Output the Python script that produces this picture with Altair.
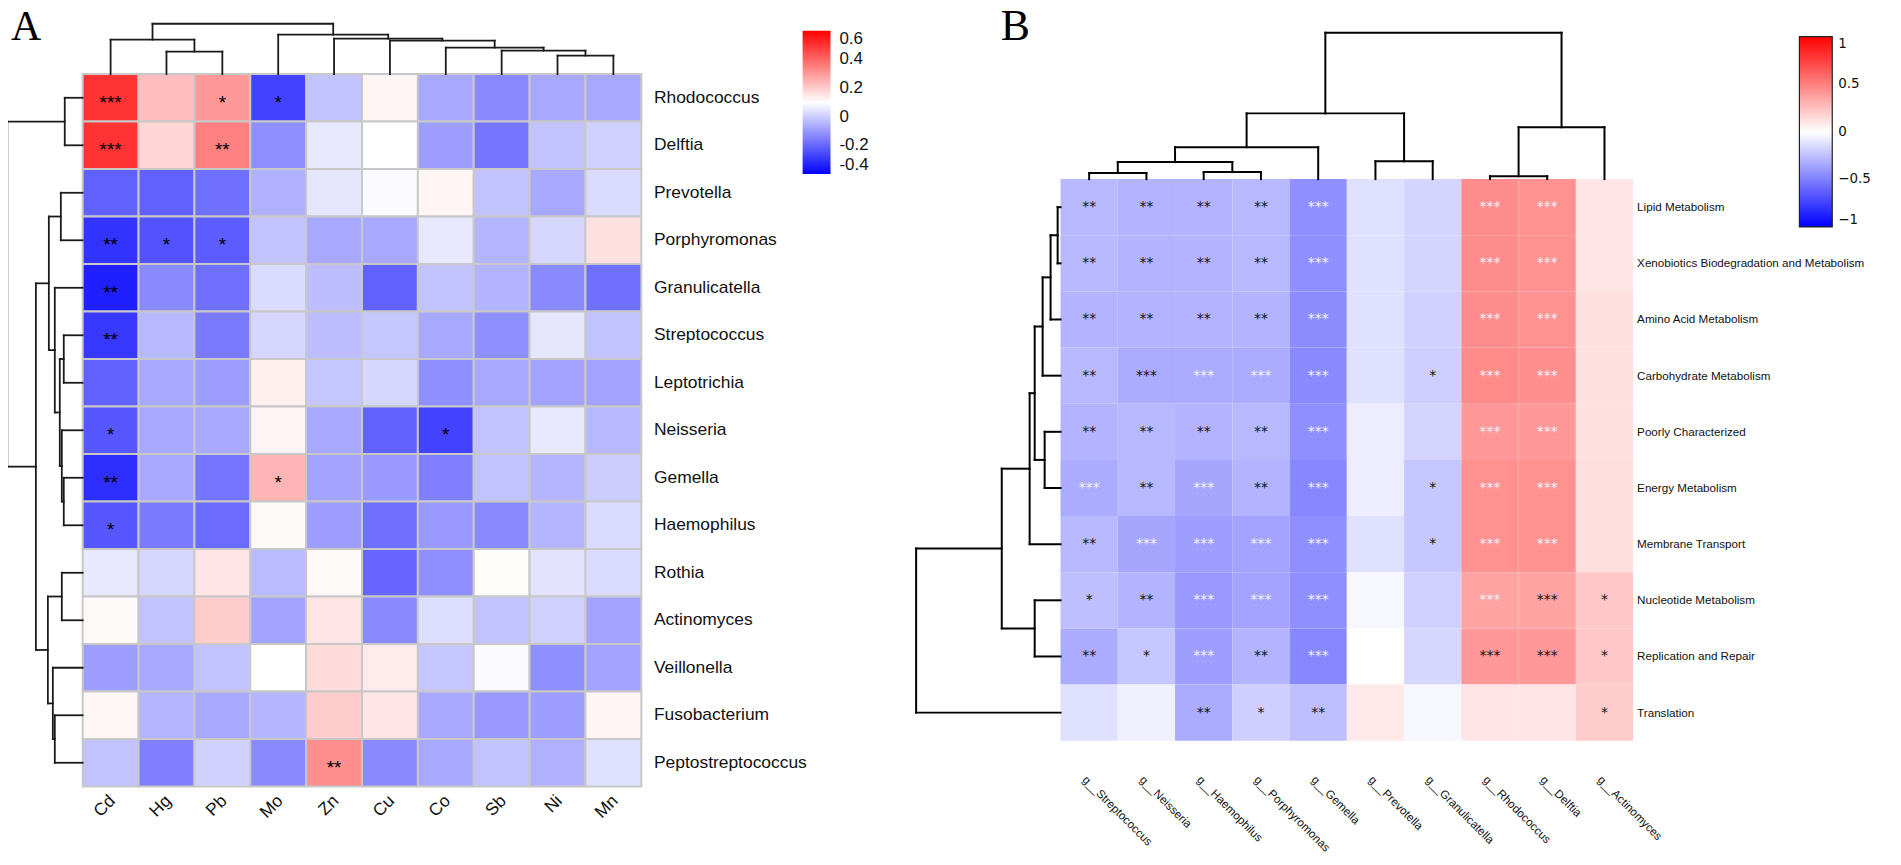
import altair as alt
import pandas as pd

# ---------------- Panel A data ----------------
A_cols = ["Cd", "Hg", "Pb", "Mo", "Zn", "Cu", "Co", "Sb", "Ni", "Mn"]
A_rows = ["Rhodococcus", "Delftia", "Prevotella", "Porphyromonas", "Granulicatella",
          "Streptococcus", "Leptotrichia", "Neisseria", "Gemella", "Haemophilus",
          "Rothia", "Actinomyces", "Veillonella", "Fusobacterium", "Peptostreptococcus"]
A_vals = [
    [0.50, 0.23, 0.30, -0.27, -0.02, 0.12, -0.07, -0.13, -0.07, -0.07],
    [0.50, 0.18, 0.35, -0.12, 0.055, 0.10, -0.09, -0.17, -0.02, 0.01],
    [-0.21, -0.21, -0.18, -0.055, 0.05, 0.09, 0.12, -0.02, -0.07, 0.03],
    [-0.30, -0.24, -0.22, -0.02, -0.07, -0.07, 0.055, -0.045, 0.02, 0.16],
    [-0.34, -0.13, -0.18, 0.03, -0.03, -0.21, -0.02, -0.05, -0.13, -0.18],
    [-0.29, -0.04, -0.16, 0.02, -0.03, -0.01, -0.07, -0.12, 0.05, -0.02],
    [-0.21, -0.07, -0.09, 0.13, -0.01, 0.02, -0.12, -0.07, -0.08, -0.08],
    [-0.23, -0.07, -0.07, 0.12, -0.07, -0.21, -0.27, -0.02, 0.055, -0.04],
    [-0.31, -0.07, -0.17, 0.245, -0.08, -0.10, -0.15, -0.02, -0.045, 0.0],
    [-0.23, -0.16, -0.19, 0.11, -0.09, -0.18, -0.10, -0.13, -0.045, 0.03],
    [0.055, 0.02, 0.15, -0.035, 0.11, -0.20, -0.12, 0.105, 0.045, 0.03],
    [0.11, -0.02, 0.20, -0.08, 0.15, -0.13, 0.035, -0.02, 0.01, -0.08],
    [-0.09, -0.07, -0.02, 0.10, 0.17, 0.14, -0.01, 0.09, -0.12, -0.08],
    [0.115, -0.045, -0.07, -0.045, 0.20, 0.15, -0.07, -0.10, -0.09, 0.12],
    [-0.02, -0.15, 0.01, -0.13, 0.32, -0.13, -0.07, -0.02, -0.055, 0.04],
]
A_sig = [("Rhodococcus", "Cd", "***"), ("Rhodococcus", "Pb", "*"), ("Rhodococcus", "Mo", "*"),
         ("Delftia", "Cd", "***"), ("Delftia", "Pb", "**"),
         ("Porphyromonas", "Cd", "**"), ("Porphyromonas", "Hg", "*"), ("Porphyromonas", "Pb", "*"),
         ("Granulicatella", "Cd", "**"), ("Streptococcus", "Cd", "**"),
         ("Neisseria", "Cd", "*"), ("Neisseria", "Co", "*"),
         ("Gemella", "Cd", "**"), ("Gemella", "Mo", "*"),
         ("Haemophilus", "Cd", "*"), ("Peptostreptococcus", "Zn", "**")]
# linkage (left, right, height) ; ids >= n are earlier merges
A_col_link = [(1, 2, 0.446), (0, 10, 0.683), (8, 9, 0.366), (7, 12, 0.465), (6, 13, 0.525),
              (5, 14, 0.663), (4, 15, 0.703), (3, 16, 0.782), (11, 17, 1.0)]
A_row_link = [(0, 1, 0.238), (2, 3, 0.29), (5, 6, 0.251), (8, 9, 0.251), (7, 18, 0.277),
              (17, 19, 0.304), (4, 20, 0.37), (16, 21, 0.449), (10, 11, 0.277), (13, 14, 0.37),
              (12, 24, 0.396), (23, 25, 0.462), (22, 26, 0.621), (15, 27, 1.0)]
A_ticks = [-0.4, -0.2, 0, 0.2, 0.4, 0.6]

# ---------------- Panel B data ----------------
B_cols = ["g__Streptococcus", "g__Neisseria", "g__Haemophilus", "g__Porphyromonas", "g__Gemella",
          "g__Prevotella", "g__Granulicatella", "g__Rhodococcus", "g__Delftia", "g__Actinomyces"]
B_rows = ["Lipid Metabolism", "Xenobiotics Biodegradation and Metabolism", "Amino Acid Metabolism",
          "Carbohydrate Metabolism", "Poorly Characterized", "Energy Metabolism",
          "Membrane Transport", "Nucleotide Metabolism", "Replication and Repair", "Translation"]
B_vals = [
    [-0.28, -0.30, -0.30, -0.28, -0.44, -0.12, -0.17, 0.45, 0.43, 0.10],
    [-0.28, -0.30, -0.30, -0.28, -0.44, -0.12, -0.17, 0.45, 0.43, 0.10],
    [-0.30, -0.30, -0.30, -0.30, -0.45, -0.12, -0.18, 0.45, 0.43, 0.12],
    [-0.28, -0.33, -0.33, -0.33, -0.46, -0.12, -0.19, 0.46, 0.44, 0.12],
    [-0.30, -0.28, -0.30, -0.28, -0.44, -0.07, -0.17, 0.40, 0.40, 0.12],
    [-0.33, -0.28, -0.35, -0.30, -0.47, -0.07, -0.22, 0.43, 0.43, 0.13],
    [-0.28, -0.35, -0.38, -0.36, -0.44, -0.12, -0.22, 0.43, 0.43, 0.13],
    [-0.25, -0.30, -0.40, -0.36, -0.44, -0.03, -0.18, 0.36, 0.36, 0.22],
    [-0.33, -0.22, -0.38, -0.30, -0.47, 0.00, -0.16, 0.40, 0.40, 0.22],
    [-0.12, -0.06, -0.33, -0.19, -0.25, 0.085, -0.03, 0.10, 0.10, 0.20],
]
# per row: stars per column ('' none); a leading W marks white stars
B_sig = [
    ["**", "**", "**", "**", "W***", "", "", "W***", "W***", ""],
    ["**", "**", "**", "**", "W***", "", "", "W***", "W***", ""],
    ["**", "**", "**", "**", "W***", "", "", "W***", "W***", ""],
    ["**", "***", "W***", "W***", "W***", "", "*", "W***", "W***", ""],
    ["**", "**", "**", "**", "W***", "", "", "W***", "W***", ""],
    ["W***", "**", "W***", "**", "W***", "", "*", "W***", "W***", ""],
    ["**", "W***", "W***", "W***", "W***", "", "*", "W***", "W***", ""],
    ["*", "**", "W***", "W***", "W***", "", "", "W***", "***", "*"],
    ["**", "*", "W***", "**", "W***", "", "", "***", "***", "*"],
    ["", "", "**", "*", "**", "", "", "", "", "*"],
]
B_col_link = [(0, 1, 0.041), (2, 3, 0.048), (10, 11, 0.116), (12, 4, 0.218), (5, 6, 0.122),
              (13, 14, 0.449), (7, 8, 0.02), (16, 9, 0.354), (15, 17, 1.0)]
B_row_link = [(0, 1, 0.02), (10, 2, 0.069), (11, 3, 0.124), (4, 5, 0.110), (12, 13, 0.179),
              (14, 6, 0.214), (7, 8, 0.179), (15, 16, 0.407), (17, 9, 1.0)]
B_ticks = [-1, -0.5, 0, 0.5, 1]

# ---------------- layout (pixel geometry of the figure) ----------------
W, H = 1893, 857
A_left, A_top, A_cw, A_rh = 75.0, 64.5, 56.1, 47.7
B_left, B_top, B_cw, B_rh = 1057.0, 170.0, 57.5, 56.4
A_top_dend, A_left_dend = 1.059, 1.349   # dendrogram depth in cell units
B_top_dend, B_left_dend = 2.606, 2.522

XA = [-A_left / A_cw, (W - A_left) / A_cw]
YA = [-A_top / A_rh, (H - A_top) / A_rh]
XB = [-B_left / B_cw, (W - B_left) / B_cw]
YB = [-B_top / B_rh, (H - B_top) / B_rh]


def dendro(link, n):
    pos = {i: i + 0.5 for i in range(n)}
    hgt = {i: 0.0 for i in range(n)}
    segs = []
    for k, (a, b, h) in enumerate(link):
        pa, pb = pos[a], pos[b]
        segs.append((pa, hgt[a], pa, h))
        segs.append((pb, hgt[b], pb, h))
        segs.append((pa, h, pb, h))
        pos[n + k] = (pa + pb) / 2
        hgt[n + k] = h
    return segs


def dend_df(col_link, ncol, row_link, nrow, top_depth, left_depth):
    recs = []
    for p1, h1, p2, h2 in dendro(col_link, ncol):
        recs.append(dict(x=p1, y=-h1 * top_depth, x2=p2, y2=-h2 * top_depth))
    for p1, h1, p2, h2 in dendro(row_link, nrow):
        recs.append(dict(y=p1, x=-h1 * left_depth, y2=p2, x2=-h2 * left_depth))
    return pd.DataFrame(recs)


def sx(dom):
    return alt.Scale(domain=dom, nice=False, zero=False)


def sy(dom):
    return alt.Scale(domain=dom, nice=False, zero=False, reverse=True)


# ---------------- Panel A ----------------
cellsA = pd.DataFrame([dict(x0=j, x1=j + 1, y0=i, y1=i + 1, v=A_vals[i][j])
                       for i in range(len(A_rows)) for j in range(len(A_cols))])
starsA = pd.DataFrame([dict(x=A_cols.index(c) + 0.5, y=A_rows.index(r) + 0.5, s=s)
                       for r, c, s in A_sig])
rowlabA = pd.DataFrame(dict(x=[len(A_cols) + 0.226] * len(A_rows),
                            y=[i + 0.5 for i in range(len(A_rows))], t=A_rows))
collabA = pd.DataFrame(dict(x=[j + 0.536 for j in range(len(A_cols))],
                            y=[len(A_rows) + 0.25] * len(A_cols), t=A_cols))
dendA = dend_df(A_col_link, len(A_cols), A_row_link, len(A_rows), A_top_dend, A_left_dend)
tagA = pd.DataFrame(dict(x=[-1.283], y=[-0.723], t=["A"]))

colorA = alt.Color(
    "v:Q",
    scale=alt.Scale(domain=[-0.4, 0.1, 0.6], range=["#0000ff", "#ffffff", "#ff0000"],
                    interpolate="rgb"),
    legend=alt.Legend(title=None, orient="none", legendX=798, legendY=21, direction="vertical",
                      gradientLength=144, gradientThickness=28, gradientStrokeWidth=0,
                      values=A_ticks, labelFont="Liberation Sans", labelFontSize=17,
                      labelColor="#111111", labelOffset=9, labelBaseline="middle",
                      labelOverlap=False, padding=0,
                      labelExpr="replace(format(datum.value, '~g'), '\u2212', '-')"),
)

rA = alt.Chart(cellsA).mark_rect(stroke="#c8c8c8", strokeWidth=2).encode(
    x=alt.X("x0:Q", scale=sx(XA), axis=None), x2="x1:Q",
    y=alt.Y("y0:Q", scale=sy(YA), axis=None), y2="y1:Q",
    color=colorA)
tA = alt.Chart(starsA).mark_text(font="Liberation Sans", fontSize=19, color="#000000",
                                 baseline="middle", dy=5).encode(
    x=alt.X("x:Q", scale=sx(XA), axis=None), y=alt.Y("y:Q", scale=sy(YA), axis=None), text="s:N")
rlA = alt.Chart(rowlabA).mark_text(font="Liberation Sans", fontSize=17.5, color="#111111",
                                   align="left", baseline="middle").encode(
    x=alt.X("x:Q", scale=sx(XA), axis=None), y=alt.Y("y:Q", scale=sy(YA), axis=None), text="t:N")
clA = alt.Chart(collabA).mark_text(font="Liberation Sans", fontSize=17.5, color="#111111",
                                   align="right", baseline="middle", angle=315).encode(
    x=alt.X("x:Q", scale=sx(XA), axis=None), y=alt.Y("y:Q", scale=sy(YA), axis=None), text="t:N")
dA = alt.Chart(dendA).mark_rule(color="#1a1a1a", strokeWidth=1.8, strokeCap="square").encode(
    x=alt.X("x:Q", scale=sx(XA), axis=None), x2="x2:Q",
    y=alt.Y("y:Q", scale=sy(YA), axis=None), y2="y2:Q")
gA = alt.Chart(tagA).mark_text(font="Liberation Serif", fontSize=42, color="#000000",
                               align="left", baseline="alphabetic").encode(
    x=alt.X("x:Q", scale=sx(XA), axis=None), y=alt.Y("y:Q", scale=sy(YA), axis=None), text="t:N")

panelA = alt.layer(rA, tA, rlA, clA, dA, gA)

# ---------------- Panel B ----------------
cellsB = pd.DataFrame([dict(x0=j, x1=j + 1, y0=i, y1=i + 1, v=B_vals[i][j])
                       for i in range(len(B_rows)) for j in range(len(B_cols))])
sb = []
for i in range(len(B_rows)):
    for j in range(len(B_cols)):
        s = B_sig[i][j]
        if s:
            sb.append(dict(x=j + 0.5, y=i + 0.5, s=s.replace("W", ""),
                           w="white" if s.startswith("W") else "black"))
starsB = pd.DataFrame(sb)
rowlabB = pd.DataFrame(dict(x=[len(B_cols) + 0.07] * len(B_rows),
                            y=[i + 0.5 for i in range(len(B_rows))], t=B_rows))
collabB = pd.DataFrame(dict(x=[j + 0.42 for j in range(len(B_cols))],
                            y=[len(B_rows) + 0.66] * len(B_cols), t=B_cols))
dendB = dend_df(B_col_link, len(B_cols), B_row_link, len(B_rows), B_top_dend, B_left_dend)
tagB = pd.DataFrame(dict(x=[-1.043], y=[-2.482], t=["B"]))

colorB = alt.Color(
    "v:Q",
    scale=alt.Scale(domain=[-1, 0, 1], range=["#0000ff", "#ffffff", "#ff0000"], interpolate="rgb"),
    legend=alt.Legend(title=None, orient="none", legendX=1799, legendY=27, direction="vertical",
                      gradientLength=191, gradientThickness=33, gradientStrokeColor="#222222",
                      gradientStrokeWidth=1.2, values=B_ticks, labelFont="DejaVu Sans",
                      labelFontSize=13.5, labelColor="#111111", labelOffset=6,
                      labelBaseline="middle", labelOverlap=False, padding=0,
                      labelExpr="format(datum.value, '~g')"),
)

rB = alt.Chart(cellsB).mark_rect().encode(
    x=alt.X("x0:Q", scale=sx(XB), axis=None), x2="x1:Q",
    y=alt.Y("y0:Q", scale=sy(YB), axis=None), y2="y1:Q",
    color=colorB)
tB = alt.Chart(starsB).mark_text(font="DejaVu Sans", fontSize=14, baseline="middle").encode(
    x=alt.X("x:Q", scale=sx(XB), axis=None), y=alt.Y("y:Q", scale=sy(YB), axis=None), text="s:N",
    color=alt.Color("w:N", scale=alt.Scale(domain=["black", "white"], range=["#111111", "#f2f2f8"]),
                    legend=None))
rlB = alt.Chart(rowlabB).mark_text(font="Liberation Sans", fontSize=11.7, color="#111111",
                                   align="left", baseline="middle").encode(
    x=alt.X("x:Q", scale=sx(XB), axis=None), y=alt.Y("y:Q", scale=sy(YB), axis=None), text="t:N")
clB = alt.Chart(collabB).mark_text(font="Liberation Sans", fontSize=11.7, color="#111111",
                                   align="left", baseline="middle", angle=45).encode(
    x=alt.X("x:Q", scale=sx(XB), axis=None), y=alt.Y("y:Q", scale=sy(YB), axis=None), text="t:N")
dB = alt.Chart(dendB).mark_rule(color="#000000", strokeWidth=2, strokeCap="square").encode(
    x=alt.X("x:Q", scale=sx(XB), axis=None), x2="x2:Q",
    y=alt.Y("y:Q", scale=sy(YB), axis=None), y2="y2:Q")
gB = alt.Chart(tagB).mark_text(font="Liberation Serif", fontSize=44, color="#000000",
                               align="left", baseline="alphabetic").encode(
    x=alt.X("x:Q", scale=sx(XB), axis=None), y=alt.Y("y:Q", scale=sy(YB), axis=None), text="t:N")

panelB = alt.layer(rB, tB, rlB, clB, dB, gB).resolve_scale(color="independent")

chart = alt.layer(panelA, panelB).resolve_scale(
    x="independent", y="independent", color="independent"
).properties(
    width=W, height=H, padding=0, autosize=alt.AutoSizeParams(type="none"),
    background="#ffffff"
).configure_view(strokeWidth=0)

chart.save("out.html", embed_options={"renderer": "svg", "actions": False})
